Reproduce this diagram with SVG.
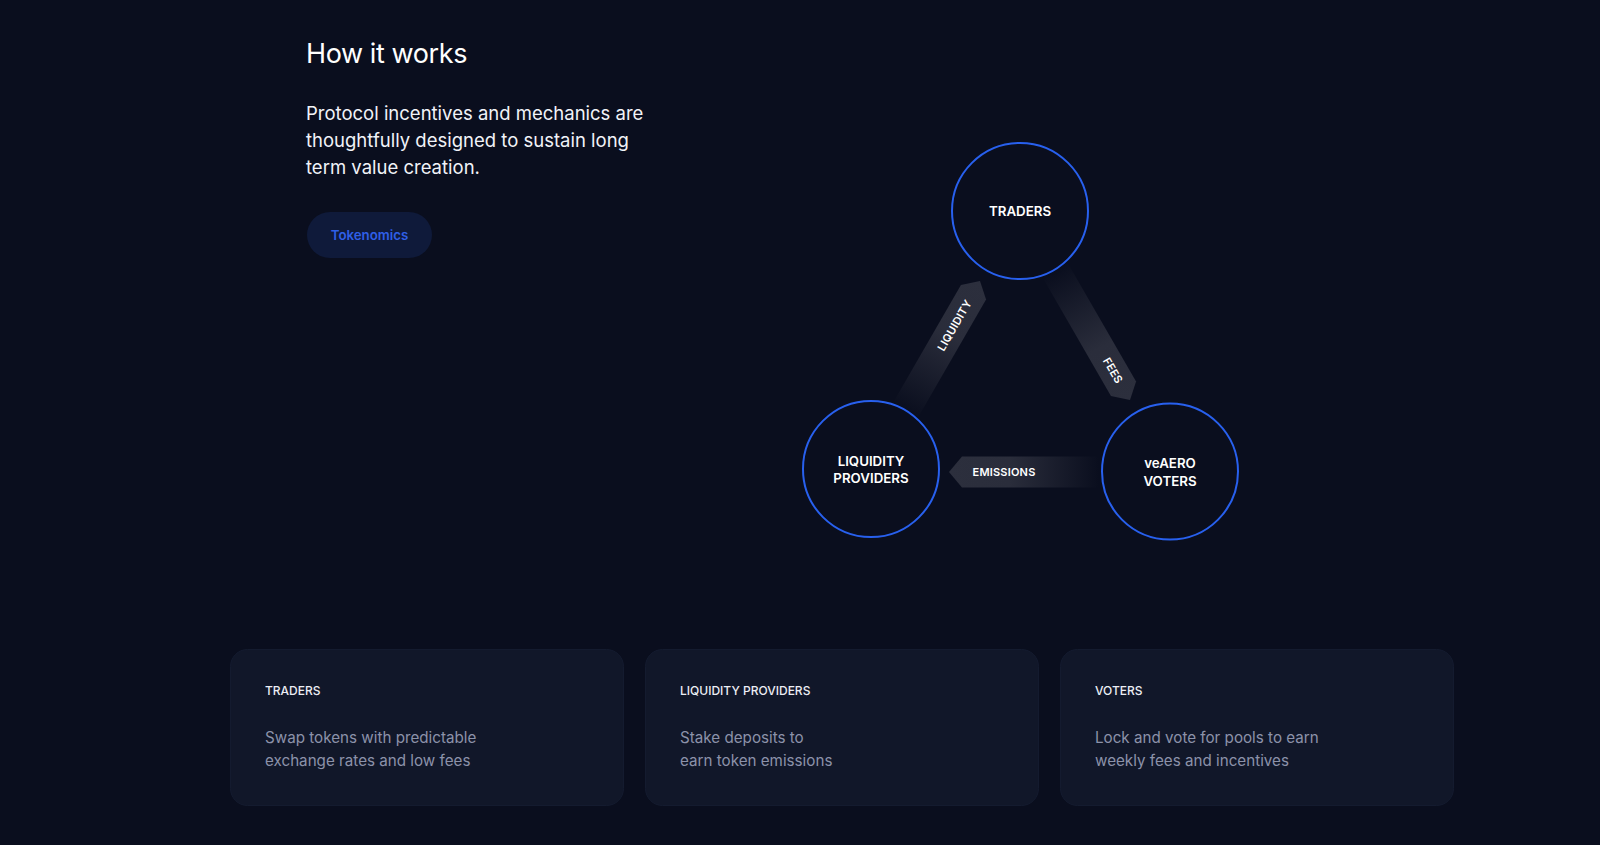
<svg xmlns="http://www.w3.org/2000/svg" width="1600" height="845" viewBox="0 0 1600 845">
  <defs>
    <style>
      text { font-family: Inter, "Noto Sans", "Liberation Sans", sans-serif; }
      .title { font-size: 27px; font-weight: 400; fill: #ffffff; letter-spacing: -0.4px; }
      .lead { font-size: 18.5px; font-weight: 400; fill: #f1f3f8; }
      .btn-text { font-size: 13.3px; font-weight: 600; fill: #2f5fe6; }
      .node-circle { fill: #0a0e1e; stroke: #2860ee; stroke-width: 2; }
      .node-label { font-size: 13.3px; font-weight: 600; fill: #ffffff; text-anchor: middle; }
      .band { fill: url(#bandGrad); }
      .band-label { font-size: 11px; font-weight: 600; fill: #ffffff; text-anchor: middle; letter-spacing: 0.2px; }
      .card { fill: #111729; stroke: #141b2f; stroke-width: 1; }
      .card-title { font-size: 12px; font-weight: 500; fill: #eceef4; }
      .card-desc { font-size: 15.2px; font-weight: 400; fill: #8c92a9; }
    </style>
    <linearGradient id="bandGrad" x1="0" y1="0" x2="1" y2="0">
      <stop offset="0" stop-color="#2a2d3b" stop-opacity="0"/>
      <stop offset="0.6" stop-color="#2a2d3b" stop-opacity="1"/>
      <stop offset="1" stop-color="#2c2f3d" stop-opacity="1"/>
    </linearGradient>
  </defs>

  <rect x="0" y="0" width="1600" height="845" fill="#0a0e1e"/>

  <g id="intro">
    <text class="title" x="306" y="63">How it works</text>
    <text class="lead" x="306" y="120">Protocol incentives and mechanics are</text>
    <text class="lead" x="306" y="147">thoughtfully designed to sustain long</text>
    <text class="lead" x="306" y="174">term value creation.</text>
  </g>

  <g id="btn-tokenomics">
    <rect x="307" y="212" width="125" height="46" rx="23" fill="#0f1a3a"/>
    <text class="btn-text" x="369.5" y="240" text-anchor="middle">Tokenomics</text>
  </g>

  <g id="connectors">
    <g id="edge-liquidity" transform="translate(905,411) rotate(-60)">
      <path class="band" d="M0,-14.5 L137,-14.5 L150,0 L137,14.5 L0,14.5 Z"/>
      <text class="band-label" x="99" y="4">LIQUIDITY</text>
    </g>
    <g id="edge-fees" transform="translate(1055,270) rotate(60)">
      <path class="band" d="M0,-14.5 L137,-14.5 L150,0 L137,14.5 L0,14.5 Z"/>
      <text class="band-label" x="116" y="4">FEES</text>
    </g>
    <g id="edge-emissions" transform="translate(1099,472) rotate(180)">
      <path class="band" d="M0,-15.5 L137,-15.5 L150,0 L137,15.5 L0,15.5 Z"/>
      <text class="band-label" x="95" y="4" transform="rotate(180 95 0)">EMISSIONS</text>
    </g>
  </g>

  <g id="node-traders">
    <circle class="node-circle" cx="1020" cy="211" r="68"/>
    <text class="node-label" x="1020" y="216">TRADERS</text>
  </g>

  <g id="node-lp">
    <circle class="node-circle" cx="871" cy="469" r="68"/>
    <text class="node-label" x="871" y="466">LIQUIDITY</text>
    <text class="node-label" x="871" y="483">PROVIDERS</text>
  </g>

  <g id="node-voters">
    <circle class="node-circle" cx="1170" cy="471.5" r="68"/>
    <text class="node-label" x="1170" y="468">veAERO</text>
    <text class="node-label" x="1170" y="485.5">VOTERS</text>
  </g>

  <g id="card-traders">
    <rect class="card" x="230.5" y="649.5" width="393" height="156" rx="17"/>
    <text class="card-title" x="265" y="695">TRADERS</text>
    <text class="card-desc" x="265" y="742.5">Swap tokens with predictable</text>
    <text class="card-desc" x="265" y="765.5">exchange rates and low fees</text>
  </g>

  <g id="card-lp">
    <rect class="card" x="645.5" y="649.5" width="393" height="156" rx="17"/>
    <text class="card-title" x="680" y="695">LIQUIDITY PROVIDERS</text>
    <text class="card-desc" x="680" y="742.5">Stake deposits to</text>
    <text class="card-desc" x="680" y="765.5">earn token emissions</text>
  </g>

  <g id="card-voters">
    <rect class="card" x="1060.5" y="649.5" width="393" height="156" rx="17"/>
    <text class="card-title" x="1095" y="695">VOTERS</text>
    <text class="card-desc" x="1095" y="742.5">Lock and vote for pools to earn</text>
    <text class="card-desc" x="1095" y="765.5">weekly fees and incentives</text>
  </g>
</svg>
